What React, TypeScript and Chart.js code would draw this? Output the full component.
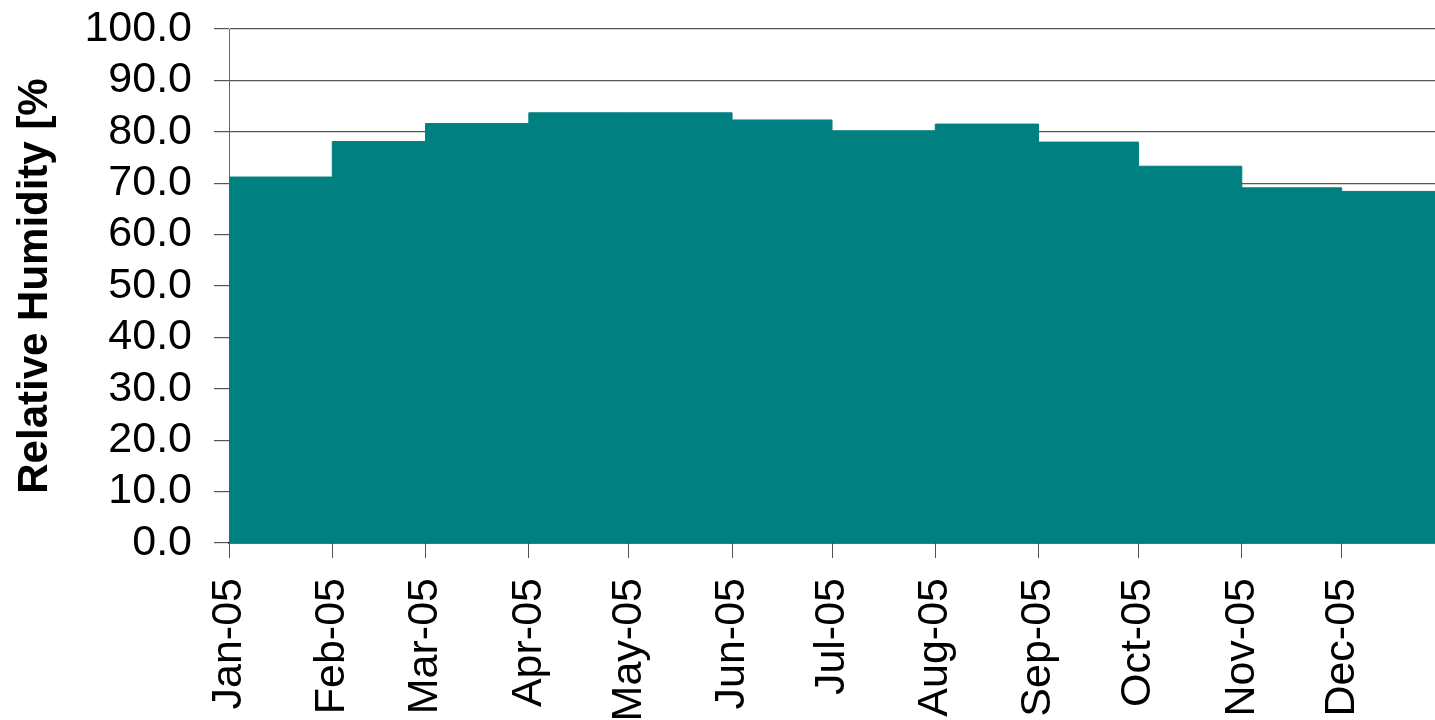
import React, { useEffect, useRef } from "react";
import { Chart, registerables } from "chart.js";

Chart.register(...registerables);

const monthLabels = ["Jan-05", "Feb-05", "Mar-05", "Apr-05", "May-05", "Jun-05", "Jul-05", "Aug-05", "Sep-05", "Oct-05", "Nov-05", "Dec-05"];
// day-of-year at the start of each month (2005)
const monthStartDays = [0, 31, 59, 90, 120, 151, 181, 212, 243, 273, 304, 334];
const yearEndDay = 365;
const humidity = [71.2, 78.1, 81.6, 83.7, 83.7, 82.3, 80.2, 81.5, 78.0, 73.3, 69.1, 68.4];
const yTicks = [0, 10, 20, 30, 40, 50, 60, 70, 80, 90, 100];
const xMaxDay = 362;

const FONT = "Arial, 'Liberation Sans', sans-serif";

export default function App() {
  const ref = useRef<HTMLCanvasElement>(null);

  useEffect(() => {
    if (!ref.current) return;
    const points = monthStartDays.map((d, i) => ({ x: d, y: humidity[i] }));
    points.push({ x: yearEndDay, y: humidity[humidity.length - 1] });

    const chart = new Chart(ref.current, {
      type: "line",
      data: {
        datasets: [
          {
            data: points,
            stepped: "before",
            fill: "origin",
            backgroundColor: "#008080",
            borderColor: "#008080",
            borderWidth: 1,
            pointRadius: 0,
          },
        ],
      },
      options: {
        animation: false,
        responsive: false,
        layout: { padding: { top: 29, right: 0, bottom: 0, left: 0 } },
        plugins: { legend: { display: false }, tooltip: { enabled: false } },
        scales: {
          x: {
            type: "linear",
            min: 0,
            max: xMaxDay,
            z: 1,
            afterBuildTicks: (scale: any) => {
              scale.ticks = monthStartDays.map((v) => ({ value: v }));
            },
            afterFit: (scale: any) => {
              scale.height = 177;
              scale.paddingLeft = 0;
              scale.paddingRight = 0;
            },
            border: { display: true, color: "#000", width: 1.5 },
            grid: { display: true, drawOnChartArea: false, drawTicks: true, tickLength: 15, color: "#555" },
            ticks: {
              autoSkip: false,
              minRotation: 90,
              maxRotation: 90,
              padding: 20,
              color: "#000",
              font: { family: FONT, size: 43 },
              callback: (_v: any, i: number) => monthLabels[i],
            },
          },
          y: {
            type: "linear",
            min: 0,
            max: 100,
            afterBuildTicks: (scale: any) => {
              scale.ticks = yTicks.map((v) => ({ value: v }));
            },
            afterFit: (scale: any) => {
              scale.width = 229;
              scale.paddingTop = 0;
              scale.paddingBottom = 0;
            },
            border: { display: true, color: "#666", width: 1 },
            grid: { color: "#555", lineWidth: 1.2, tickLength: 15 },
            ticks: {
              autoSkip: false,
              padding: 22,
              color: "#000",
              font: { family: FONT, size: 43 },
              callback: (v: any) => Number(v).toFixed(1),
            },
            title: {
              display: true,
              text: "Relative Humidity [%",
              color: "#000",
              font: { family: FONT, size: 42, weight: "bold" },
              padding: { top: 10, bottom: 0 },
            },
          },
        },
      },
    });
    return () => chart.destroy();
  }, []);

  return (
    <div style={{ position: "absolute", left: 0, top: 0, width: 1435, height: 720 }}>
      <canvas ref={ref} width={1435} height={720} />
    </div>
  );
}
